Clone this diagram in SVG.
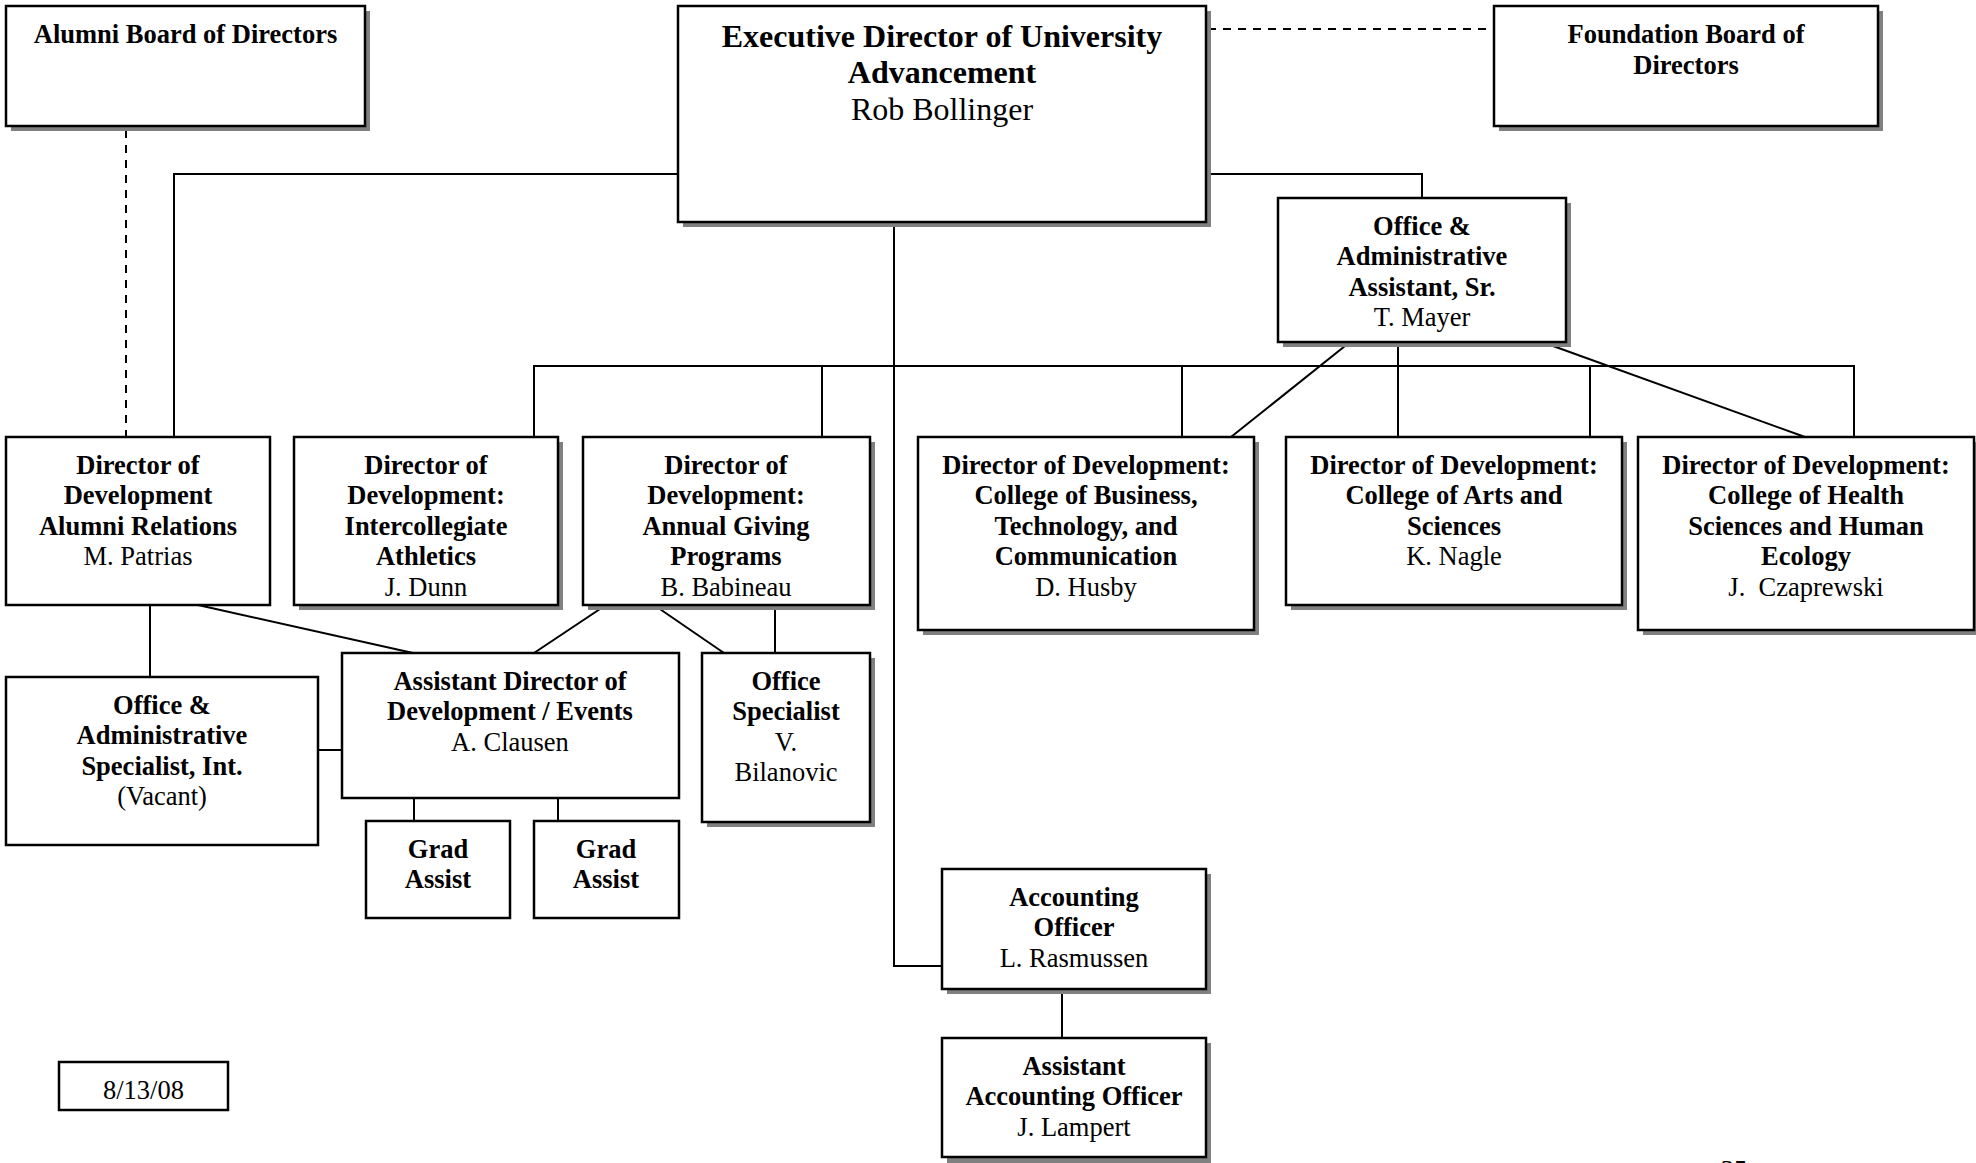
<svg xmlns="http://www.w3.org/2000/svg" width="1976" height="1163" viewBox="0 0 1976 1163">
  <style>
    .box { fill: #ffffff; stroke: #000000; stroke-width: 2.5; }
    .shadow { fill: #808080; }
    .conn { stroke: #000000; stroke-width: 2; fill: none; }
    .dash { stroke-dasharray: 8 7; }
    text { font-family: "Liberation Serif", "Times New Roman", serif; font-size: 26.5px; text-anchor: middle; fill: #000000; transform: translateY(1.5px); }
    .b { font-weight: bold; }
    .big { font-size: 32px; }
  </style>
  <rect x="0" y="0" width="1976" height="1163" fill="#ffffff"/>

  <!-- reporting lines -->
  <g id="connectors">
    <path class="conn dash" d="M126,130 V437"/>
    <path class="conn dash" d="M1208,29 H1493"/>
    <path class="conn" d="M678,174 H174 V437"/>
    <path class="conn" d="M1206,174 H1422 V198"/>
    <path class="conn" d="M894,222 V966 H942"/>
    <path class="conn" d="M1062,989 V1038"/>
    <path class="conn" d="M534,437 V366 H1854 V437"/>
    <path class="conn" d="M822,366 V437"/>
    <path class="conn" d="M1182,366 V437"/>
    <path class="conn" d="M1590,366 V437"/>
    <path class="conn" d="M1398,342 V437"/>
    <path class="conn" d="M1350,342 L1231,437"/>
    <path class="conn" d="M1542,342 L1805,437"/>
    <path class="conn" d="M150,605 V677"/>
    <path class="conn" d="M198,605 L413,653"/>
    <path class="conn" d="M606,605 L534,653"/>
    <path class="conn" d="M654,605 L724,653"/>
    <path class="conn" d="M775,605 V653"/>
    <path class="conn" d="M342,750 H319"/>
    <path class="conn" d="M414,798 V821"/>
    <path class="conn" d="M558,798 V821"/>
  </g>

  <g id="alumni-board">
    <rect class="shadow" x="11" y="11" width="359" height="120"/>
    <rect class="box" x="6" y="6" width="359" height="120"/>
    <text class="b" x="185.5" y="41">Alumni Board of Directors</text>
  </g>

  <g id="executive-director">
    <rect class="shadow" x="683" y="11" width="528" height="216"/>
    <rect class="box" x="678" y="6" width="528" height="216"/>
    <text class="b big" x="942" y="45">Executive Director of University</text>
    <text class="b big" x="942" y="81.5">Advancement</text>
    <text class="big" x="942" y="118">Rob Bollinger</text>
  </g>

  <g id="foundation-board">
    <rect class="shadow" x="1499" y="11" width="384" height="120"/>
    <rect class="box" x="1494" y="6" width="384" height="120"/>
    <text class="b" x="1686" y="41">Foundation Board of</text>
    <text class="b" x="1686" y="72">Directors</text>
  </g>

  <g id="office-admin-assistant-sr">
    <rect class="shadow" x="1283" y="203" width="288" height="144"/>
    <rect class="box" x="1278" y="198" width="288" height="144"/>
    <text class="b" x="1422" y="233">Office &amp;</text>
    <text class="b" x="1422" y="263.5">Administrative</text>
    <text class="b" x="1422" y="294">Assistant, Sr.</text>
    <text x="1422" y="324.5">T. Mayer</text>
  </g>

  <g id="dir-alumni-relations">
    <rect class="box" x="6" y="437" width="264" height="168"/>
    <text class="b" x="138" y="472">Director of</text>
    <text class="b" x="138" y="502.5">Development</text>
    <text class="b" x="138" y="533">Alumni Relations</text>
    <text x="138" y="563.5">M. Patrias</text>
  </g>

  <g id="dir-athletics">
    <rect class="shadow" x="299" y="442" width="264" height="168"/>
    <rect class="box" x="294" y="437" width="264" height="168"/>
    <text class="b" x="426" y="472">Director of</text>
    <text class="b" x="426" y="502.5">Development:</text>
    <text class="b" x="426" y="533">Intercollegiate</text>
    <text class="b" x="426" y="563.5">Athletics</text>
    <text x="426" y="594">J. Dunn</text>
  </g>

  <g id="dir-annual-giving">
    <rect class="shadow" x="588" y="442" width="287" height="168"/>
    <rect class="box" x="583" y="437" width="287" height="168"/>
    <text class="b" x="726" y="472">Director of</text>
    <text class="b" x="726" y="502.5">Development:</text>
    <text class="b" x="726" y="533">Annual Giving</text>
    <text class="b" x="726" y="563.5">Programs</text>
    <text x="726" y="594">B. Babineau</text>
  </g>

  <g id="dir-business">
    <rect class="shadow" x="923" y="442" width="336" height="193"/>
    <rect class="box" x="918" y="437" width="336" height="193"/>
    <text class="b" x="1086" y="472">Director of Development:</text>
    <text class="b" x="1086" y="502.5">College of Business,</text>
    <text class="b" x="1086" y="533">Technology, and</text>
    <text class="b" x="1086" y="563.5">Communication</text>
    <text x="1086" y="594">D. Husby</text>
  </g>

  <g id="dir-arts-sciences">
    <rect class="shadow" x="1291" y="442" width="336" height="168"/>
    <rect class="box" x="1286" y="437" width="336" height="168"/>
    <text class="b" x="1454" y="472">Director of Development:</text>
    <text class="b" x="1454" y="502.5">College of Arts and</text>
    <text class="b" x="1454" y="533">Sciences</text>
    <text x="1454" y="563.5">K. Nagle</text>
  </g>

  <g id="dir-health-sciences">
    <rect class="shadow" x="1643" y="442" width="336" height="193"/>
    <rect class="box" x="1638" y="437" width="336" height="193"/>
    <text class="b" x="1806" y="472">Director of Development:</text>
    <text class="b" x="1806" y="502.5">College of Health</text>
    <text class="b" x="1806" y="533">Sciences and Human</text>
    <text class="b" x="1806" y="563.5">Ecology</text>
    <text x="1806" y="594">J. &#160;Czaprewski</text>
  </g>

  <g id="office-admin-specialist-int">
    <rect class="box" x="6" y="677" width="312" height="168"/>
    <text class="b" x="162" y="712">Office &amp;</text>
    <text class="b" x="162" y="742.5">Administrative</text>
    <text class="b" x="162" y="773">Specialist, Int.</text>
    <text x="162" y="803.5">(Vacant)</text>
  </g>

  <g id="asst-dir-events">
    <rect class="box" x="342" y="653" width="337" height="145"/>
    <text class="b" x="510" y="688">Assistant Director of</text>
    <text class="b" x="510" y="718.5">Development / Events</text>
    <text x="510" y="749">A. Clausen</text>
  </g>

  <g id="office-specialist">
    <rect class="shadow" x="707" y="658" width="168" height="169"/>
    <rect class="box" x="702" y="653" width="168" height="169"/>
    <text class="b" x="786" y="688">Office</text>
    <text class="b" x="786" y="718.5">Specialist</text>
    <text x="786" y="749">V.</text>
    <text x="786" y="779.5">Bilanovic</text>
  </g>

  <g id="grad-assist-1">
    <rect class="box" x="366" y="821" width="144" height="97"/>
    <text class="b" x="438" y="856">Grad</text>
    <text class="b" x="438" y="886.5">Assist</text>
  </g>

  <g id="grad-assist-2">
    <rect class="box" x="534" y="821" width="145" height="97"/>
    <text class="b" x="606" y="856">Grad</text>
    <text class="b" x="606" y="886.5">Assist</text>
  </g>

  <g id="accounting-officer">
    <rect class="shadow" x="947" y="874" width="264" height="120"/>
    <rect class="box" x="942" y="869" width="264" height="120"/>
    <text class="b" x="1074" y="904">Accounting</text>
    <text class="b" x="1074" y="934.5">Officer</text>
    <text x="1074" y="965">L. Rasmussen</text>
  </g>

  <g id="asst-accounting-officer">
    <rect class="shadow" x="947" y="1043" width="264" height="120"/>
    <rect class="box" x="942" y="1038" width="264" height="119"/>
    <text class="b" x="1074" y="1073">Assistant</text>
    <text class="b" x="1074" y="1103.5">Accounting Officer</text>
    <text x="1074" y="1134">J. Lampert</text>
  </g>

  <g id="date-stamp">
    <rect class="box" x="59" y="1062" width="169" height="48"/>
    <text x="143.5" y="1097">8/13/08</text>
  </g>

  <!-- page number, running off the lower edge -->
  <text x="1734" y="1177">35</text>
</svg>
